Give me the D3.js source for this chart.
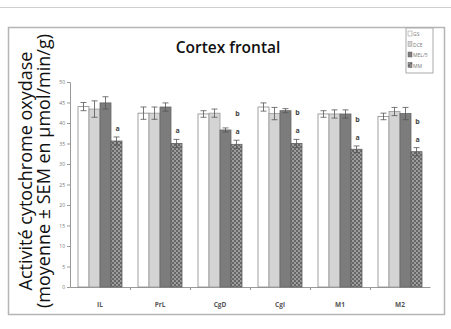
<!DOCTYPE html>
<html>
<head>
<meta charset="utf-8">
<script src="https://cdn.jsdelivr.net/npm/d3@7"></script>
<style>
  body { margin: 0; background: #fff; }
  svg { display: block; }
</style>
</head>
<body>
<div id="chart"></div>
<script>
// régions du cortex frontal
const regions = ['IL', 'PrL', 'CgD', 'Cgl', 'M1', 'M2']
const groups = ['GS', 'DCE', 'MEL/5', 'MM']
// moyennes par groupe (µmol/min/g)
const valGS = [44, 42.4, 42.2, 43.9, 42.2, 41.6]
const valDCE = [43.4, 42.4, 42.4, 42.3, 42.2, 42.8]
const valMEL = [44.9, 43.9, 38.3, 43.0, 42.2, 42.3]
const valMM = [35.6, 35.0, 34.8, 35.0, 33.6, 33.0]
// SEM
const semGS = [1, 1.5, 0.8, 1, 0.8, 0.8]
const semDCE = [2, 1.5, 1, 1.5, 1, 1]
const semMEL = [1.5, 1, 0.5, 0.5, 1, 1.5]
const semMM = [1, 1, 1, 1, 0.8, 1]
// marques de significativité au-dessus des barres MM
const marks = [['a'], ['a'], ['b', 'a'], ['b', 'a'], ['b', 'a'], ['b', 'a']]
const yTicks = [0, 5, 10, 15, 20, 25, 30, 35, 40, 45, 50]

const width = 451, height = 329
const plot = { left: 70, right: 430, top: 82, bottom: 287 }

const svg = d3.select('#chart').append('svg')
  .attr('width', width)
  .attr('height', height)

const defs = svg.append('defs')
const pat = defs.append('pattern')
  .attr('id', 'damier')
  .attr('width', 4).attr('height', 4)
  .attr('patternUnits', 'userSpaceOnUse')
pat.append('rect').attr('width', 4).attr('height', 4).attr('fill', '#666')
pat.append('rect').attr('x', 0).attr('y', 0).attr('width', 2).attr('height', 2).attr('fill', '#9c9c9c')
pat.append('rect').attr('x', 2).attr('y', 2).attr('width', 2).attr('height', 2).attr('fill', '#9c9c9c')

const fills = ['#ffffff', '#d4d4d4', '#7c7c7c', 'url(#damier)']
const strokes = ['#8a8a8a', '#9a9a9a', '#666', '#5e5e5e']

// ligne grise en haut
svg.append('line')
  .attr('x1', 0).attr('x2', width)
  .attr('y1', 7.5).attr('y2', 7.5)
  .attr('stroke', '#cfcfcf')

// cadre du graphique
svg.append('rect')
  .attr('x', 8.5).attr('y', 27.5)
  .attr('width', 436).attr('height', 287)
  .attr('fill', 'none')
  .attr('stroke', '#b5b5b5')
  .attr('stroke-width', 1.5)

svg.append('text')
  .attr('x', 228).attr('y', 53)
  .attr('text-anchor', 'middle')
  .attr('font-family', 'Open Sans')
  .attr('font-weight', 600)
  .attr('font-size', 15.5)
  .attr('fill', '#111')
  .text('Cortex frontal')

// titre de l'axe y
const yTitle = svg.append('text')
  .attr('transform', 'translate(0,171) rotate(-90)')
  .attr('text-anchor', 'middle')
  .attr('font-family', 'Open Sans')
  .attr('font-size', 18)
  .attr('fill', '#111')
yTitle.append('tspan').attr('x', 0).attr('y', 32).text('Activité cytochrome oxydase')
yTitle.append('tspan').attr('x', 0).attr('y', 50).text('(moyenne ± SEM en µmol/min/g)')

const x0 = d3.scaleBand()
  .domain(regions)
  .range([plot.left, plot.right])

const x1 = d3.scaleBand()
  .domain(groups)
  .range([8, 52])

const y = d3.scaleLinear()
  .domain([0, 50])
  .range([plot.bottom, plot.top])

const yAxis = d3.axisLeft(y).tickValues(yTicks).tickSize(3)
const gy = svg.append('g')
  .attr('transform', 'translate(' + plot.left + ',0)')
  .call(yAxis)
gy.select('.domain').attr('stroke', '#999')
gy.selectAll('.tick line').attr('stroke', '#999')
gy.selectAll('.tick text')
  .attr('font-family', 'Open Sans')
  .attr('font-size', 5)
  .attr('fill', '#777')
  .attr('x', -5)

const xAxis = d3.axisBottom(x0).tickSize(0).tickFormat('')
const gx = svg.append('g')
  .attr('transform', 'translate(0,' + plot.bottom + ')')
  .call(xAxis)
gx.select('.domain').attr('stroke', '#999')
// petites graduations entre régions
svg.append('g').selectAll('line')
  .data(regions.slice(1))
  .join('line')
  .attr('x1', d => x0(d) + 0.5).attr('x2', d => x0(d) + 0.5)
  .attr('y1', plot.bottom).attr('y2', plot.bottom + 3)
  .attr('stroke', '#999')

svg.append('g').selectAll('text')
  .data(regions)
  .join('text')
  .attr('x', d => x0(d) + x0.bandwidth() / 2)
  .attr('y', 307)
  .attr('text-anchor', 'middle')
  .attr('font-family', 'Open Sans')
  .attr('font-weight', 700)
  .attr('font-size', 6.5)
  .attr('fill', '#555')
  .text(d => d)

const vals = [valGS, valDCE, valMEL, valMM]
const sems = [semGS, semDCE, semMEL, semMM]
const rows = []
regions.forEach((r, i) => {
  groups.forEach((g, j) => {
    rows.push({ r, g, j, v: vals[j][i], e: sems[j][i] })
  })
})

const bars = svg.append('g')
bars.selectAll('rect')
  .data(rows)
  .join('rect')
  .attr('x', d => x0(d.r) + x1(d.g))
  .attr('y', d => y(d.v))
  .attr('width', x1.bandwidth())
  .attr('height', d => y(0) - y(d.v))
  .attr('fill', d => fills[d.j])
  .attr('stroke', d => strokes[d.j])
  .attr('stroke-width', 0.8)

// barres d'erreur
const err = svg.append('g').attr('stroke', '#555').attr('stroke-width', 0.8)
rows.forEach(d => {
  const cx = x0(d.r) + x1(d.g) + x1.bandwidth() / 2
  err.append('line').attr('x1', cx).attr('x2', cx)
    .attr('y1', y(d.v + d.e)).attr('y2', y(d.v - d.e))
  err.append('line').attr('x1', cx - 3).attr('x2', cx + 3)
    .attr('y1', y(d.v + d.e)).attr('y2', y(d.v + d.e))
  err.append('line').attr('x1', cx - 3).attr('x2', cx + 3)
    .attr('y1', y(d.v - d.e)).attr('y2', y(d.v - d.e))
})

// marques
regions.forEach((r, i) => {
  const cx = x0(r) + x1('MM') + x1.bandwidth() / 2 + 1
  marks[i].forEach((m, k) => {
    const n = marks[i].length
    svg.append('text')
      .attr('x', cx)
      .attr('y', y(valMM[i] + semMM[i]) - 6 - (n - 1 - k) * 18)
      .attr('text-anchor', 'middle')
      .attr('font-family', 'Open Sans')
      .attr('font-weight', 700)
      .attr('font-size', 7)
      .attr('fill', '#444')
      .text(m)
  })
})

// légende
const leg = svg.append('g').attr('transform', 'translate(406,28)')
leg.append('rect')
  .attr('width', 27).attr('height', 45)
  .attr('fill', '#fff')
  .attr('stroke', '#aaa')
leg.selectAll('g.item')
  .data(groups)
  .join('g')
  .attr('class', 'item')
  .attr('transform', (d, i) => 'translate(2,' + (3 + i * 10.5) + ')')
  .each(function (d, i) {
    const g = d3.select(this)
    g.append('rect')
      .attr('width', 4).attr('height', 5)
      .attr('fill', fills[i])
      .attr('stroke', strokes[i])
      .attr('stroke-width', 0.5)
    g.append('text')
      .attr('x', 5).attr('y', 5)
      .attr('font-family', 'Open Sans')
      .attr('font-size', 5)
      .attr('fill', '#777')
      .text(d)
  })
</script>
</body>
</html>
